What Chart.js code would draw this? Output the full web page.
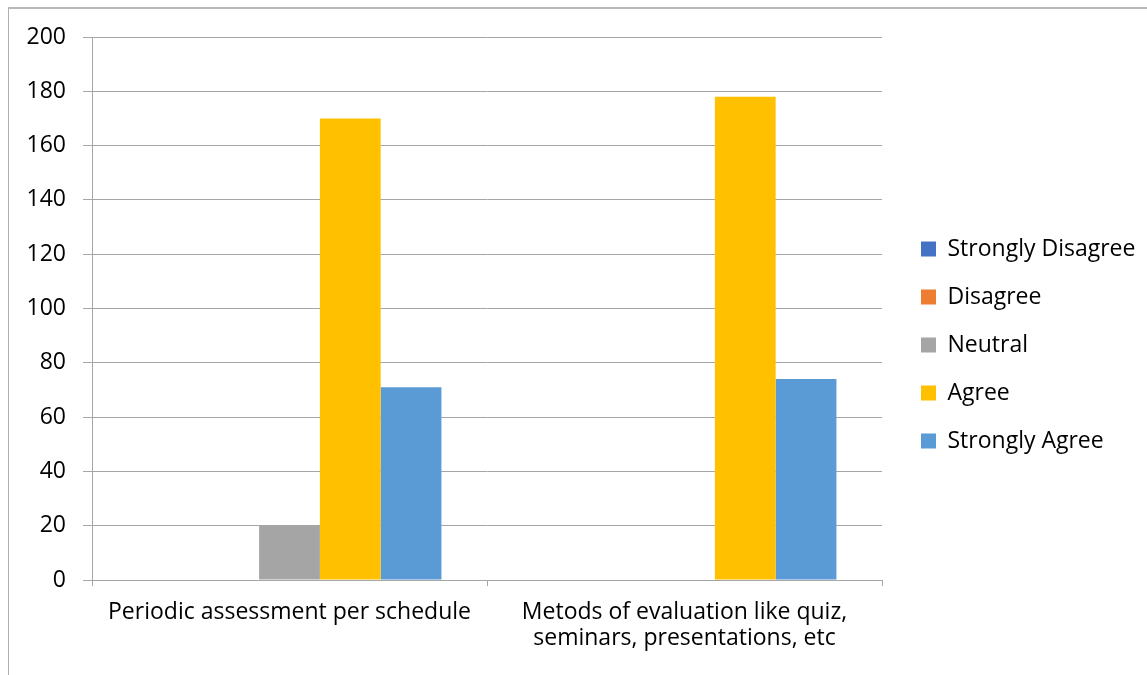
<!DOCTYPE html>
<html>
<head>
<meta charset="utf-8">
<script src="https://cdn.jsdelivr.net/npm/chart.js@4/dist/chart.umd.min.js"></script>
<style>
  html, body { margin: 0; padding: 0; background: #fff; overflow: hidden; }
  #frame {
    position: absolute; left: 8px; top: 7px; width: 1400px; height: 900px;
    border-left: 1px solid #b0b0b0; border-top: 2px solid #b8b8b8;
  }
  #wrap { position: absolute; left: 0; top: 0; width: 1147px; height: 675px; }
</style>
</head>
<body>
<div id="frame"></div>
<div id="wrap"><canvas id="chart" width="1147" height="675"></canvas></div>
<script>
// Chart data
const categories = [
    ['Periodic assessment per schedule'],
    ['Metods of evaluation like quiz,', 'seminars, presentations, etc']
];
const seriesNames = ['Strongly Disagree', 'Disagree', 'Neutral', 'Agree', 'Strongly Agree'];
const stronglyDisagree = [0, 0];
const disagree = [0, 0];
const neutral = [20, 0];
const agree = [170, 178];
const stronglyAgree = [71, 74];
const yTicks = [0, 20, 40, 60, 80, 100, 120, 140, 160, 180, 200];

const colors = ['#4472C4', '#ED7D31', '#A5A5A5', '#FFC000', '#5B9BD5'];
const seriesValues = [stronglyDisagree, disagree, neutral, agree, stronglyAgree];

const FONT = '"Open Sans", Lato, sans-serif';
const gridColor = '#a6a6a6';
const legendPad = 25;

// pin the legend to the spot it has in the picture
const legendFix = {
    id: 'legendFix',
    beforeLayout(chart) {
        const lg = chart.legend;
        if (lg && !lg._fixed) {
            const fit = lg.fit;
            lg.fit = function () {
                fit.call(this);
                this.width = 1147 - 882;
            };
            lg._fixed = true;
        }
    },
    afterLayout(chart) {
        const lg = chart.legend;
        lg.left = 921 - legendPad;
        lg.right = 1147;
        lg.top = 249 - legendPad - 11.5;
        lg.bottom = 675;
    }
};

const ctx = document.getElementById('chart').getContext('2d');

new Chart(ctx, {
    type: 'bar',
    data: {
        labels: categories,
        datasets: seriesNames.map((name, i) => ({
            label: name,
            data: seriesValues[i],
            backgroundColor: colors[i],
            borderWidth: 0,
            categoryPercentage: 5 / 6.5,
            barPercentage: 1
        }))
    },
    options: {
        responsive: false,
        animation: false,
        layout: { padding: { top: 37, right: 0, bottom: 0, left: 0 } },
        plugins: {
            legend: {
                position: 'right',
                align: 'start',
                labels: {
                    boxWidth: 15,
                    boxHeight: 15,
                    padding: legendPad,
                    color: '#000',
                    font: { family: FONT, size: 23 }
                }
            },
            tooltip: { enabled: false }
        },
        scales: {
            x: {
                grid: {
                    drawOnChartArea: false,
                    drawTicks: true,
                    tickLength: 6,
                    color: gridColor
                },
                border: { color: gridColor },
                ticks: {
                    color: '#000',
                    padding: 13,
                    maxRotation: 0,
                    font: { family: FONT, size: 23, lineHeight: 1.15 }
                },
                afterFit(scale) { scale.height = 95; }
            },
            y: {
                min: 0,
                max: 200,
                afterBuildTicks(scale) {
                    scale.ticks = yTicks.map(v => ({ value: v }));
                },
                grid: { color: gridColor, tickLength: 9 },
                border: { color: gridColor },
                ticks: {
                    color: '#000',
                    padding: 17,
                    font: { family: FONT, size: 23 }
                },
                afterFit(scale) { scale.width = 92; }
            }
        }
    },
    plugins: [legendFix]
});
</script>
</body>
</html>
